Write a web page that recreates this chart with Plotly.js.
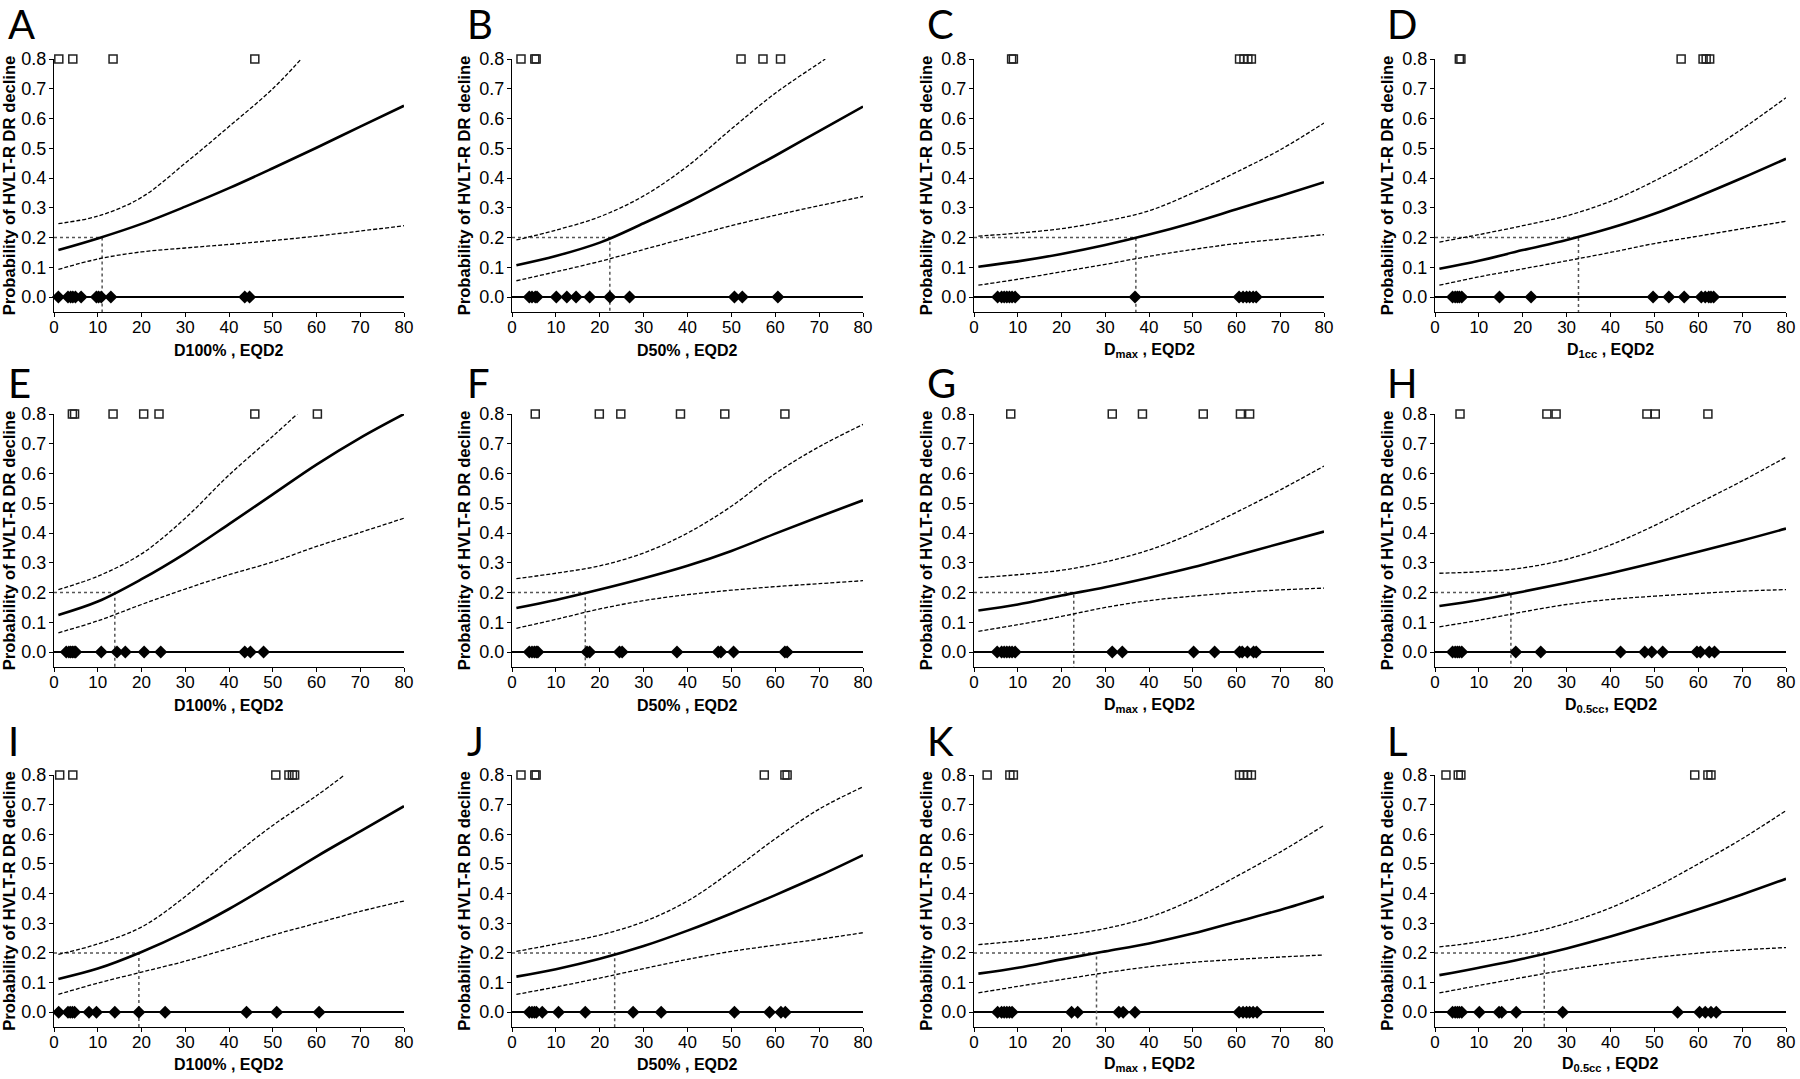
<!DOCTYPE html>
<html>
<head>
<meta charset="utf-8">
<script src="https://cdn.plot.ly/plotly-3.0.1.min.js"></script>
<style>
  html, body { margin: 0; padding: 0; background: #fff; }
  #chart { width: 1800px; height: 1079px; }
</style>
</head>
<body>
<div id="chart"></div>
<script>
const doseGrid = [1, 10, 20, 30, 40, 50, 60, 70, 80];

const panelLetters = ['A', 'B', 'C', 'D', 'E', 'F', 'G', 'H', 'I', 'J', 'K', 'L'];
const xTitles = [
  'D100% , EQD2', 'D50% , EQD2', 'D<sub>max</sub> , EQD2', 'D<sub>1cc</sub> , EQD2',
  'D100% , EQD2', 'D50% , EQD2', 'D<sub>max</sub> , EQD2', 'D<sub>0.5cc</sub>, EQD2',
  'D100% , EQD2', 'D50% , EQD2', 'D<sub>max</sub> , EQD2', 'D<sub>0.5cc</sub> , EQD2'
];
const yTitle = 'Probability of HVLT-R DR decline';

// A
const fitA = [0.158, 0.197, 0.246, 0.304, 0.366, 0.433, 0.502, 0.573, 0.643];
const upperAx = [1, 10, 20, 30, 40, 50, 56.5];
const upperA = [0.247, 0.272, 0.335, 0.450, 0.573, 0.700, 0.800];
const lowerA = [0.093, 0.128, 0.152, 0.165, 0.177, 0.190, 0.205, 0.222, 0.240];
const cutA = 11.0;
const noEventA = [1.0, 3.2, 3.8, 4.3, 4.9, 6.2, 9.7, 10.2, 10.8, 13.0, 43.6, 44.7];
const eventA = [1.1, 4.3, 13.5, 45.9];

// B
const fitB = [0.107, 0.138, 0.183, 0.248, 0.318, 0.395, 0.475, 0.558, 0.640];
const upperBx = [1, 10, 20, 30, 40, 50, 60, 70, 71.4];
const upperB = [0.192, 0.225, 0.270, 0.340, 0.440, 0.565, 0.685, 0.786, 0.800];
const lowerB = [0.055, 0.085, 0.120, 0.160, 0.200, 0.240, 0.275, 0.307, 0.338];
const cutB = 22.3;
const noEventB = [3.95, 4.56, 5.3, 5.7, 10.1, 12.5, 14.6, 17.7, 22.3, 26.8, 50.7, 52.5, 60.6];
const eventB = [2.05, 5.2, 5.5, 52.2, 57.2, 61.2];

// C
const fitC = [0.102, 0.120, 0.145, 0.175, 0.210, 0.250, 0.295, 0.340, 0.386];
const upperC = [0.205, 0.215, 0.230, 0.255, 0.290, 0.350, 0.420, 0.495, 0.585];
const lowerC = [0.040, 0.060, 0.085, 0.110, 0.137, 0.160, 0.180, 0.195, 0.210];
const cutC = 37.0;
const noEventC = [5.4, 6.3, 6.9, 7.5, 8.1, 8.7, 9.4, 36.8, 60.6, 61.5, 62.3, 63.0, 63.8, 64.5];
const eventC = [8.6, 9.0, 60.7, 61.7, 62.6, 63.4];

// D
const fitD = [0.095, 0.122, 0.158, 0.192, 0.232, 0.280, 0.338, 0.400, 0.465];
const upperD = [0.185, 0.210, 0.240, 0.273, 0.322, 0.390, 0.470, 0.565, 0.670];
const lowerD = [0.040, 0.068, 0.095, 0.122, 0.150, 0.180, 0.205, 0.230, 0.255];
const cutD = 32.7;
const noEventD = [4.0, 4.6, 5.1, 5.55, 6.1, 14.7, 21.9, 49.7, 53.3, 56.8, 60.7, 61.6, 62.4, 62.9, 63.5];
const eventD = [5.55, 5.9, 56.1, 61.1, 61.8, 62.6];

// E
const fitE = [0.125, 0.170, 0.245, 0.332, 0.430, 0.530, 0.630, 0.720, 0.800];
const upperEx = [1, 10, 20, 30, 40, 50, 55.6];
const upperE = [0.210, 0.255, 0.330, 0.450, 0.595, 0.725, 0.800];
const lowerE = [0.065, 0.105, 0.160, 0.212, 0.260, 0.303, 0.355, 0.402, 0.450];
const cutE = 13.9;
const noEventE = [2.8, 3.4, 3.8, 4.2, 4.6, 4.95, 10.8, 14.4, 16.3, 20.6, 24.4, 43.6, 44.9, 47.9];
const eventE = [4.2, 4.7, 13.5, 20.5, 24.0, 45.9, 60.2];

// F
const fitF = [0.148, 0.175, 0.210, 0.248, 0.290, 0.340, 0.398, 0.455, 0.510];
const upperF = [0.247, 0.265, 0.290, 0.333, 0.400, 0.490, 0.600, 0.690, 0.765];
const lowerF = [0.080, 0.110, 0.145, 0.173, 0.193, 0.208, 0.220, 0.230, 0.240];
const cutF = 16.7;
const noEventF = [3.95, 4.56, 5.1, 5.55, 5.9, 17.1, 17.7, 24.5, 25.1, 37.6, 47.0, 47.6, 50.5, 62.2, 62.7];
const eventF = [5.3, 19.9, 24.8, 38.4, 48.5, 62.2];

// G
const fitG = [0.140, 0.160, 0.190, 0.218, 0.250, 0.285, 0.325, 0.365, 0.405];
const upperG = [0.250, 0.260, 0.275, 0.303, 0.343, 0.400, 0.470, 0.545, 0.625];
const lowerG = [0.070, 0.092, 0.120, 0.150, 0.173, 0.188, 0.200, 0.209, 0.215];
const cutG = 22.8;
const noEventG = [5.3, 6.3, 6.9, 7.5, 8.1, 8.7, 9.4, 31.6, 33.9, 50.2, 55.0, 60.7, 61.3, 62.5, 63.9, 64.5];
const eventG = [8.4, 31.6, 38.5, 52.4, 60.9, 63.0];

// H
const fitH = [0.155, 0.175, 0.203, 0.233, 0.265, 0.300, 0.337, 0.375, 0.415];
const upperH = [0.265, 0.270, 0.283, 0.312, 0.360, 0.425, 0.500, 0.575, 0.655];
const lowerH = [0.085, 0.107, 0.135, 0.160, 0.177, 0.188, 0.197, 0.205, 0.210];
const cutH = 17.3;
const noEventH = [4.0, 4.6, 5.1, 5.55, 6.1, 18.4, 24.1, 42.3, 47.8, 49.4, 51.9, 59.7, 60.5, 62.5, 63.7];
const eventH = [5.7, 25.5, 27.6, 48.3, 50.2, 62.2];

// I
const fitI = [0.112, 0.147, 0.203, 0.270, 0.348, 0.435, 0.525, 0.610, 0.695];
const upperIx = [1, 10, 20, 30, 40, 50, 60, 66.4];
const upperI = [0.195, 0.230, 0.287, 0.390, 0.515, 0.630, 0.730, 0.800];
const lowerI = [0.060, 0.098, 0.135, 0.172, 0.215, 0.260, 0.300, 0.340, 0.375];
const cutI = 19.4;
const noEventI = [1.07, 3.2, 3.7, 4.2, 4.7, 8.0, 9.7, 13.9, 19.4, 25.4, 44.0, 50.9, 60.6];
const eventI = [1.3, 4.3, 50.7, 53.7, 54.5, 55.0];

// J
const fitJ = [0.120, 0.145, 0.180, 0.223, 0.275, 0.333, 0.395, 0.460, 0.530];
const upperJ = [0.205, 0.230, 0.260, 0.305, 0.375, 0.475, 0.585, 0.685, 0.760];
const lowerJ = [0.060, 0.085, 0.115, 0.147, 0.178, 0.205, 0.226, 0.246, 0.268];
const cutJ = 23.4;
const noEventJ = [3.95, 4.56, 5.1, 5.55, 6.9, 10.6, 16.7, 27.6, 34.0, 50.7, 58.7, 61.3, 62.3];
const eventJ = [2.05, 5.2, 5.5, 57.5, 62.2, 62.7];

// K
const fitK = [0.130, 0.150, 0.178, 0.205, 0.232, 0.265, 0.305, 0.345, 0.390];
const upperK = [0.228, 0.240, 0.258, 0.282, 0.320, 0.380, 0.458, 0.540, 0.630];
const lowerK = [0.065, 0.087, 0.110, 0.133, 0.153, 0.168, 0.178, 0.186, 0.193];
const cutK = 28.0;
const noEventK = [5.4, 6.3, 6.9, 7.5, 8.1, 8.7, 22.3, 23.7, 33.1, 34.1, 36.8, 60.6, 61.5, 62.3, 63.0, 63.8, 64.7];
const eventK = [3.0, 8.2, 9.0, 60.7, 61.6, 62.5, 63.4];

// L
const fitL = [0.125, 0.150, 0.180, 0.215, 0.255, 0.300, 0.347, 0.397, 0.450];
const upperL = [0.220, 0.237, 0.262, 0.300, 0.352, 0.420, 0.500, 0.585, 0.680];
const lowerL = [0.065, 0.090, 0.117, 0.143, 0.165, 0.184, 0.199, 0.210, 0.218];
const cutL = 24.9;
const noEventL = [4.0, 4.6, 5.1, 5.55, 6.1, 10.1, 14.6, 15.2, 18.5, 29.1, 55.3, 60.3, 61.6, 62.9, 64.1];
const eventL = [2.5, 5.3, 5.9, 59.2, 62.2, 62.9];

const panels = [
  [fitA, upperAx, upperA, lowerA, cutA, noEventA, eventA],
  [fitB, upperBx, upperB, lowerB, cutB, noEventB, eventB],
  [fitC, doseGrid, upperC, lowerC, cutC, noEventC, eventC],
  [fitD, doseGrid, upperD, lowerD, cutD, noEventD, eventD],
  [fitE, upperEx, upperE, lowerE, cutE, noEventE, eventE],
  [fitF, doseGrid, upperF, lowerF, cutF, noEventF, eventF],
  [fitG, doseGrid, upperG, lowerG, cutG, noEventG, eventG],
  [fitH, doseGrid, upperH, lowerH, cutH, noEventH, eventH],
  [fitI, upperIx, upperI, lowerI, cutI, noEventI, eventI],
  [fitJ, doseGrid, upperJ, lowerJ, cutJ, noEventJ, eventJ],
  [fitK, doseGrid, upperK, lowerK, cutK, noEventK, eventK],
  [fitL, doseGrid, upperL, lowerL, cutL, noEventL, eventL]
];

// --- page geometry (pixels of the 1800x1079 picture) ---
const W = 1800, H = 1079;
const colLeft = [54, 512, 974, 1435];
const colRight = [404, 863, 1324, 1786];
const rowTop = [59, 414, 775];
const rowBottom = [312, 667, 1027];
const letterX = [7, 466, 926, 1386];
const letterY = [24, 383, 741];
const xTitleY = [350, 705, 1064];

const baseFont = 'Liberation Sans, Arial, sans-serif';
const traces = [];
const layout = {
  width: W,
  height: H,
  margin: { l: 0, r: 0, t: 0, b: 0 },
  paper_bgcolor: '#fff',
  plot_bgcolor: 'rgba(0,0,0,0)',
  showlegend: false,
  font: { family: baseFont, color: '#000' },
  annotations: []
};

panels.forEach(([fit, upX, up, low, cut, noEvent, event], i) => {
  const row = Math.floor(i / 4), col = i % 4;
  const sfx = i === 0 ? '' : String(i + 1);
  const xa = 'x' + sfx, ya = 'y' + sfx;

  traces.push({
    x: [0, cut, cut], y: [0.2, 0.2, -0.05], xaxis: xa, yaxis: ya,
    mode: 'lines', line: { color: '#555', width: 1.5, dash: 'dot' }, hoverinfo: 'skip'
  });
  traces.push({
    x: doseGrid, y: low, xaxis: xa, yaxis: ya, mode: 'lines',
    line: { color: '#000', width: 1.3, dash: '4px,2px', shape: 'spline' }
  });
  traces.push({
    x: upX, y: up, xaxis: xa, yaxis: ya, mode: 'lines',
    line: { color: '#000', width: 1.3, dash: '4px,2px', shape: 'spline' }
  });
  traces.push({
    x: doseGrid, y: fit, xaxis: xa, yaxis: ya, mode: 'lines',
    line: { color: '#000', width: 2.6, shape: 'spline' }
  });
  traces.push({
    x: noEvent, y: noEvent.map(() => 0), xaxis: xa, yaxis: ya, mode: 'markers',
    marker: { symbol: 'diamond', size: 10, color: '#000' }, cliponaxis: false
  });
  traces.push({
    x: event, y: event.map(() => 0.8), xaxis: xa, yaxis: ya, mode: 'markers',
    marker: { symbol: 'square-open', size: 8, color: '#222', line: { width: 1.5 } }, cliponaxis: false
  });

  layout['xaxis' + sfx] = {
    domain: [colLeft[col] / W, colRight[col] / W],
    anchor: ya,
    range: [0, 80],
    dtick: 10,
    showgrid: false,
    zeroline: false,
    showline: true,
    linecolor: '#000',
    linewidth: 1,
    ticks: 'outside',
    ticklen: 4,
    tickcolor: '#000',
    ticklabelstandoff: -4,
    tickfont: { size: 17, family: baseFont }
  };
  layout['yaxis' + sfx] = {
    domain: [1 - rowBottom[row] / H, 1 - rowTop[row] / H],
    anchor: xa,
    range: [-0.05, 0.8],
    tickvals: [0, 0.1, 0.2, 0.3, 0.4, 0.5, 0.6, 0.7, 0.8],
    tickformat: '.1f',
    showgrid: false,
    zeroline: true,
    zerolinecolor: '#000',
    zerolinewidth: 1.5,
    showline: true,
    linecolor: '#000',
    linewidth: 1,
    ticks: 'outside',
    ticklen: 4,
    tickcolor: '#000',
    ticklabelstandoff: -1,
    tickfont: { size: 18, family: baseFont },
    title: { text: yTitle, font: { size: 16.6, weight: 700, family: baseFont }, standoff: 4 }
  };

  // x-axis title, placed under each panel
  layout.annotations.push({
    text: xTitles[i],
    xref: 'paper', yref: 'paper',
    x: (colLeft[col] + colRight[col]) / 2 / W, y: 1 - xTitleY[row] / H,
    xanchor: 'center', yanchor: 'middle',
    showarrow: false,
    font: { family: baseFont, size: 16, weight: 700, color: '#000' }
  });

  layout.annotations.push({
    text: panelLetters[i],
    xref: 'paper', yref: 'paper',
    x: letterX[col] / W, y: 1 - letterY[row] / H,
    xanchor: 'left', yanchor: 'middle',
    showarrow: false,
    borderpad: 0,
    font: { family: 'Lato, Open Sans, sans-serif', size: 40, color: '#000' }
  });
});

Plotly.newPlot('chart', traces, layout, { staticPlot: true });
</script>
</body>
</html>
